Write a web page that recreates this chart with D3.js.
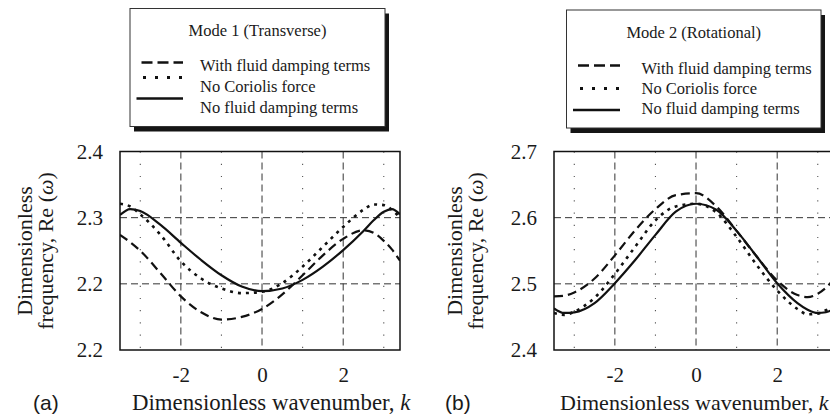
<!DOCTYPE html>
<html>
<head>
<meta charset="utf-8">
<script src="https://cdn.jsdelivr.net/npm/d3@7"></script>
<style>
  body { margin: 0; background: #fff; }
  text { font-family: "Liberation Serif", "Times New Roman", serif; fill: #1a1a1a; }
  .panel-tag { font-family: "Liberation Sans", Arial, sans-serif; }
</style>
</head>
<body>
<div id="chart"></div>
<script>
// wavenumber samples shared by all curves
let kValues = [-3.5, -3.25, -3, -2.5, -2, -1.5, -1, -0.5, 0, 0.5, 1, 1.5, 2, 2.5, 2.75, 3, 3.2, 3.4];

// Mode 1 (Transverse)
let mode1Damped   = [2.274, 2.263, 2.250, 2.216, 2.181, 2.157, 2.146, 2.150, 2.162, 2.184, 2.213, 2.243, 2.268, 2.281, 2.277, 2.265, 2.252, 2.235];
let mode1NoCoriol = [2.321, 2.317, 2.305, 2.274, 2.234, 2.208, 2.193, 2.186, 2.188, 2.201, 2.226, 2.256, 2.286, 2.312, 2.320, 2.319, 2.312, 2.300];
let mode1Undamped = [2.304, 2.313, 2.310, 2.289, 2.262, 2.236, 2.213, 2.196, 2.189, 2.193, 2.206, 2.226, 2.251, 2.280, 2.296, 2.309, 2.313, 2.305];

// Mode 2 (Rotational)
let mode2Damped   = [2.481, 2.482, 2.487, 2.508, 2.543, 2.581, 2.613, 2.634, 2.637, 2.617, 2.580, 2.541, 2.505, 2.483, 2.480, 2.485, 2.494, 2.507];
let mode2NoCoriol = [2.456, 2.453, 2.458, 2.479, 2.515, 2.556, 2.596, 2.617, 2.621, 2.608, 2.571, 2.528, 2.490, 2.462, 2.454, 2.455, 2.460, 2.466];
let mode2Undamped = [2.463, 2.456, 2.457, 2.471, 2.501, 2.536, 2.574, 2.609, 2.621, 2.612, 2.580, 2.541, 2.501, 2.471, 2.461, 2.456, 2.457, 2.462];

// ticks
let xTicks = [-2, 0, 2];
let xMinorTicks = [-3, -1, 1, 3];
let mode1YTicks = [2.1, 2.2, 2.3, 2.4];
let mode1YLabels = ["2.2", "2.2", "2.3", "2.4"];
let mode2YTicks = [2.4, 2.5, 2.6, 2.7];
let mode2YLabels = ["2.4", "2.5", "2.6", "2.7"];

let seriesNames = ["With fluid damping terms", "No Coriolis force", "No fluid damping terms"];
let seriesDash = ["9,5", "3,5", null];
let legendDash = ["11,5", "3,9", null];

let svg = d3.select("#chart").append("svg")
    .attr("width", 830)
    .attr("height", 419);

function drawPanel(p) {
    let g = svg.append("g");

    let x = d3.scaleLinear().domain([-3.5, 3.4]).range([p.left, p.left + 280]);
    let y = d3.scaleLinear().domain(p.yDomain).range([350, 151.5]);

    svg.append("clipPath").attr("id", "clip-" + p.id)
        .append("rect")
        .attr("x", x.range()[0]).attr("y", 151.5)
        .attr("width", 280).attr("height", 198.5);

    // minor dotted verticals
    g.selectAll(".minor")
        .data(xMinorTicks)
        .join("line")
        .attr("x1", d => x(d)).attr("x2", d => x(d))
        .attr("y1", 151.5).attr("y2", 350)
        .attr("stroke", "#555")
        .attr("stroke-width", 1.1)
        .attr("stroke-dasharray", "1.2,11");

    // major dashed grid
    g.selectAll(".vgrid")
        .data(xTicks)
        .join("line")
        .attr("x1", d => x(d)).attr("x2", d => x(d))
        .attr("y1", 151.5).attr("y2", 350)
        .attr("stroke", "#333")
        .attr("stroke-width", 1)
        .attr("stroke-dasharray", "7,4");

    g.selectAll(".hgrid")
        .data(p.yTicks.slice(1, -1))
        .join("line")
        .attr("x1", x.range()[0]).attr("x2", x.range()[1])
        .attr("y1", d => y(d)).attr("y2", d => y(d))
        .attr("stroke", "#333")
        .attr("stroke-width", 1)
        .attr("stroke-dasharray", "7,4");

    // curves
    let line = d3.line()
        .x((d, i) => x(kValues[i]))
        .y(d => y(d))
        .curve(d3.curveMonotoneX);

    let curves = g.append("g").attr("clip-path", "url(#clip-" + p.id + ")");
    curves.selectAll("path")
        .data(p.series)
        .join("path")
        .attr("d", d => line(d))
        .attr("fill", "none")
        .attr("stroke", "#111")
        .attr("stroke-width", (d, i) => i == 1 ? 2.6 : 2.2)
        .attr("stroke-dasharray", (d, i) => seriesDash[i]);

    // frame
    g.append("rect")
        .attr("x", x.range()[0]).attr("y", 151.5)
        .attr("width", 280).attr("height", 198.5)
        .attr("fill", "none")
        .attr("stroke", "#111")
        .attr("stroke-width", 1.5);

    // axes
    let yAxis = g.append("g")
        .attr("transform", "translate(" + x.range()[0] + ",0)")
        .call(d3.axisLeft(y).tickValues(p.yTicks).tickFormat((d, i) => p.yLabels[i]).tickSize(0).tickPadding(17));
    yAxis.attr("font-size", 21).select(".domain").remove();

    let xAxis = g.append("g")
        .attr("transform", "translate(0,350)")
        .call(d3.axisBottom(x).tickValues(xTicks).tickFormat(d => String(d)).tickSize(0).tickPadding(17));
    xAxis.attr("font-size", 21).select(".domain").remove();

    // axis titles
    g.append("text")
        .attr("x", p.xTitleX).attr("y", 410)
        .attr("font-size", p.xTitleSize)
        .text("Dimensionless wavenumber, ")
        .append("tspan").attr("font-style", "italic").text("k");

    g.append("text")
        .attr("transform", "translate(" + p.yTitleX[0] + ",251) rotate(-90)")
        .attr("text-anchor", "middle")
        .attr("font-size", 22)
        .text("Dimensionless");

    let t2 = g.append("text")
        .attr("transform", "translate(" + p.yTitleX[1] + ",251) rotate(-90)")
        .attr("text-anchor", "middle")
        .attr("font-size", 22)
        .text("frequency, Re (");
    t2.append("tspan").attr("font-style", "italic").text("ω");
    t2.append("tspan").text(")");

    g.append("text")
        .attr("class", "panel-tag")
        .attr("x", p.tagX).attr("y", 410)
        .attr("font-size", 21)
        .text(p.tag);

    // legend
    let lg = p.legend;
    let leg = svg.append("g");
    leg.append("rect")
        .attr("x", lg.x + 4).attr("y", lg.y + 5)
        .attr("width", lg.w).attr("height", lg.h)
        .attr("fill", "#151515");
    leg.append("rect")
        .attr("x", lg.x).attr("y", lg.y)
        .attr("width", lg.w).attr("height", lg.h)
        .attr("fill", "#fff")
        .attr("stroke", "#333")
        .attr("stroke-width", 1);
    leg.append("text")
        .attr("x", lg.x + lg.w / 2).attr("y", lg.titleY)
        .attr("text-anchor", "middle")
        .attr("font-size", 16.5)
        .text(p.title);

    leg.selectAll(".sample")
        .data(seriesNames)
        .join("line")
        .attr("x1", (d, i) => lg.sampleX[i]).attr("x2", lg.sampleEnd)
        .attr("y1", (d, i) => lg.sampleY[i]).attr("y2", (d, i) => lg.sampleY[i])
        .attr("stroke", "#111")
        .attr("stroke-width", (d, i) => i == 1 ? 3 : 2.6)
        .attr("stroke-dasharray", (d, i) => legendDash[i]);

    leg.selectAll(".label")
        .data(seriesNames)
        .join("text")
        .attr("x", lg.textX)
        .attr("y", (d, i) => lg.textY[i])
        .attr("font-size", 16.5)
        .text(d => d);
}

drawPanel({
    id: "a", left: 120, yDomain: [2.1, 2.4],
    yTicks: mode1YTicks, yLabels: mode1YLabels,
    series: [mode1Damped, mode1NoCoriol, mode1Undamped],
    xTitleX: 132, xTitleSize: 22.8, yTitleX: [32, 53], tag: "(a)", tagX: 33,
    title: "Mode 1 (Transverse)",
    legend: { x: 130, y: 8.5, w: 255, h: 118, titleY: 36,
              sampleX: [141.5, 143, 136.5], sampleEnd: 183, sampleY: [62.5, 77.5, 98.5],
              textX: 200, textY: [70.5, 91.5, 112.5] }
});

drawPanel({
    id: "b", left: 554, yDomain: [2.4, 2.7],
    yTicks: mode2YTicks, yLabels: mode2YLabels,
    series: [mode2Damped, mode2NoCoriol, mode2Undamped],
    xTitleX: 560, xTitleSize: 22, yTitleX: [462, 483], tag: "(b)", tagX: 445,
    title: "Mode 2 (Rotational)",
    legend: { x: 566.5, y: 10, w: 254.5, h: 118, titleY: 37.5,
              sampleX: [578, 580, 573], sampleEnd: 620, sampleY: [65.5, 88.5, 110],
              textX: 641.5, textY: [74, 94, 113.5] }
});
</script>
</body>
</html>
